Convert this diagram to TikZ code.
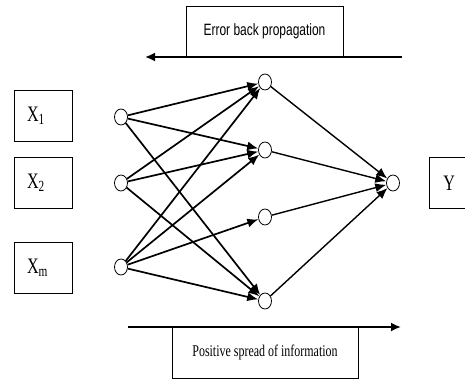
\documentclass[tikz,border=0pt]{standalone}
\usepackage{fontspec}
\setmainfont{Liberation Serif}
\newfontfamily\arialfont{Liberation Sans}
\usepackage{graphicx}
\usepackage{tikz}
\usetikzlibrary{arrows.meta,shapes.geometric}
\newcommand{\tallText}[1]{\scalebox{0.95}[1.3]{#1}}
\tikzset{
  neuron/.style={
    ellipse, draw, line width=0.8pt, minimum width=13pt,
    minimum height=16pt, inner sep=0pt
  },
  varbox/.style={
    rectangle, draw, line width=0.9pt, minimum height=51pt,
    inner xsep=13pt, text width=32pt, align=left,
    font=\fontsize{17}{17}\selectfont
  },
  captionbox/.style={
    rectangle, draw, line width=0.9pt, minimum height=51pt,
    font=\fontsize{12.6}{14}\selectfont
  },
  linkArrow/.style={-{Latex[length=11pt,width=9pt]}, line width=1.7pt},
  flowArrow/.style={-{Latex[length=10pt,width=9pt]}, line width=1.8pt}
}

\begin{document}
\begin{tikzpicture}[x=1pt, y=-1pt]
  \useasboundingbox (0,0) rectangle (465,379);

  % variable boxes
  \node[varbox] (bx1) at (43,115.5) {\tallText{X\textsubscript{1}}};
  \node[varbox] (bx2) at (43,183) {\tallText{X\textsubscript{2}}};
  \node[varbox] (bxm) at (43,268) {\tallText{X\textsubscript{m}}};
  \node[varbox, anchor=west, inner xsep=14pt, text width=22pt] (by) at (429,183) {\tallText{Y}};

  % neurons
  \node[neuron] (i1) at (121,117) {};
  \node[neuron] (i2) at (121,183) {};
  \node[neuron] (i3) at (121,267) {};
  \node[neuron] (h1) at (265,82) {};
  \node[neuron] (h2) at (265,150) {};
  \node[neuron] (h3) at (265,217) {};
  \node[neuron] (h4) at (265,301) {};
  \node[neuron] (out) at (393,183) {};

  \foreach \s/\t in {i1/h1,i1/h2,i1/h4,i2/h1,i2/h2,i2/h4,i3/h1,i3/h2,i3/h3,i3/h4}
    \draw[linkArrow] (\s) -- (\t);
  \foreach \s in {h1,h2,h3,h4}
    \draw[linkArrow, line width=1.4pt] (\s) -- (out);

  % propagation directions
  \node[captionbox, minimum width=157pt, font=\arialfont\fontsize{12.6}{14}\selectfont]
    (err) at (264.5,31.5) {\tallText{Error back propagation}};
  \coordinate (errR) at (402,57);
  \coordinate (errL) at (145,57);
  \draw[flowArrow] (errR) -- (errL);

  \node[captionbox, minimum width=186pt] (pos) at (265,352.5) {\tallText{Positive spread of information}};
  \coordinate (posL) at (128,327);
  \coordinate (posR) at (401,327);
  \draw[flowArrow] (posL) -- (posR);
\end{tikzpicture}
\end{document}
